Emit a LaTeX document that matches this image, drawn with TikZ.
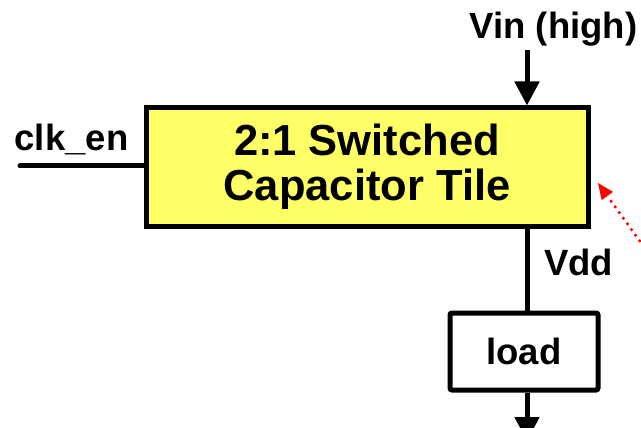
\documentclass[tikz,border=0pt]{standalone}
\usepackage{fontspec}
\setmainfont{Liberation Sans}
\usetikzlibrary{arrows.meta}
\definecolor{tileyellow}{RGB}{255,255,102}
\tikzset{
  wire/.style={line width=5pt},
  arr/.style={line width=5pt,-{Triangle[width=24pt,length=24pt]}},
  tilebox/.style={draw,line width=5pt,fill=tileyellow,minimum width=442pt,minimum height=118pt,inner sep=0pt,align=center,font=\bfseries\fontsize{43.5}{45}\selectfont},
  loadbox/.style={draw,line width=5pt,rounded corners=2pt,minimum width=148pt,minimum height=77pt,inner sep=0pt,font=\bfseries\fontsize{36.5}{40}\selectfont},
  lbl/.style={inner sep=0pt,anchor=base,font=\bfseries\fontsize{36.5}{40}\selectfont},
  hint/.style={red,line width=3.5pt,line cap=round,dash pattern=on 0pt off 7pt,-{Triangle[width=14pt,length=16pt,line width=0pt]}}
}
\begin{document}
\begin{tikzpicture}[x=1pt,y=-1pt]
\useasboundingbox (0,0) rectangle (641,428);
\node[tilebox] (tile) at (367,167) {2:1 Switched\\Capacitor Tile};
\node[loadbox] (load) at (524,351.5) {load};
\coordinate (vintop) at (527,50);
\coordinate (clk) at (20,166);
\coordinate (gnd) at (527,441);
\coordinate (hintstart) at (652,258);
\coordinate (hintend) at (598,183);
\draw[arr] (vintop) -- (vintop |- tile.north);
\draw[wire,line cap=round] (clk) -- (clk -| tile.west);
\draw[wire] (tile.south -| vintop) -- (load.north -| vintop);
\draw[arr] (load.south -| vintop) -- (gnd);
\draw[hint] (hintstart) -- (hintend);
\node[lbl] (vin) at (553.5,39) {Vin (high)};
\node[lbl] (clklbl) at (71.5,150) {clk\_en};
\node[lbl] (vdd) at (578.5,275) {Vdd};
\end{tikzpicture}
\end{document}
